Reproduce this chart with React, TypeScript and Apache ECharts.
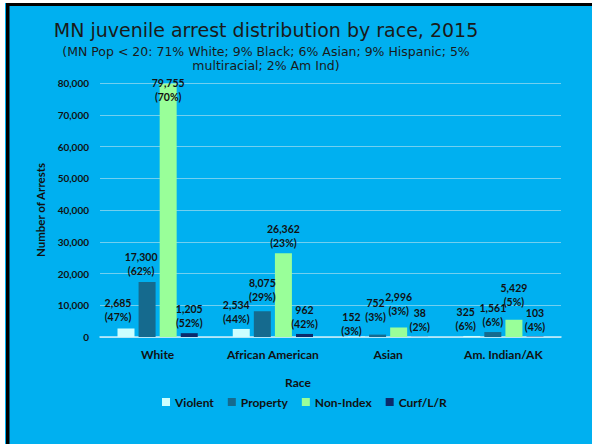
import React, { useEffect, useRef } from 'react';
import * as echarts from 'echarts';

const categories = ['White', 'African American', 'Asian', 'Am. Indian/AK'];
const seriesNames = ['Violent', 'Property', 'Non-Index', 'Curf/L/R'];
const violent = [2685, 2534, 152, 325];
const violentPct = [47, 44, 3, 6];
const property = [17300, 8075, 752, 1561];
const propertyPct = [62, 29, 3, 6];
const nonIndex = [79755, 26362, 2996, 5429];
const nonIndexPct = [70, 23, 3, 5];
const curfew = [1205, 962, 38, 103];
const curfewPct = [52, 42, 2, 4];
const yMax = 80000;
const yInterval = 10000;

const titleText = 'MN juvenile arrest distribution by race, 2015';
const subtitleLines = [
  '(MN Pop < 20: 71% White; 9% Black; 6% Asian; 9% Hispanic; 5%',
  'multiracial; 2% Am Ind)',
];

const colors = ['#CCFFFF', '#156A8E', '#99FF99', '#0B2A6B'];
// label nudges (style only)
const labelNudges = [
  [[-8, -1], [-5, 0], [-5, 4], [-6, 0]],
  [[-6, -1], [0, -4], [-2, -8], [0, 0]],
  [[0, 23], [0, 0], [0, -6], [0, -8]],
  [[0, 0], [0, 0], [0, 0], [0, 0]],
];

const FONT = 'Lato, "Open Sans", sans-serif';

export default function App() {
  const ref = useRef<HTMLDivElement>(null);
  useEffect(() => {
    if (!ref.current) return;
    const chart = echarts.init(ref.current, undefined, { renderer: 'svg' });
    const values = [violent, property, nonIndex, curfew];
    const pcts = [violentPct, propertyPct, nonIndexPct, curfewPct];
    const series = values.map((vals, si) => ({
      name: seriesNames[si],
      type: 'bar',
      barWidth: 17,
      barGap: '24%',
      itemStyle: { color: colors[si] },
      data: vals.map((v, i) => ({
        value: v,
        label: { offset: labelNudges[si][i] },
      })),
      label: {
        show: true,
        position: 'top',
        distance: 3,
        fontFamily: FONT,
        fontWeight: 'bold',
        fontSize: 10.5,
        lineHeight: 14,
        color: '#111',
        formatter: (p: any) =>
          `${Number(p.value).toLocaleString('en-US')}\n(${pcts[si][p.dataIndex]}%)`,
      },
    }));
    chart.setOption({
      animation: false,
      backgroundColor: '#00B0F0',
      textStyle: { fontFamily: FONT },
      grid: { left: 100, right: 31, top: 83, bottom: 107, containLabel: false },
      legend: {
        left: 157,
        top: 391,
        itemWidth: 8,
        itemHeight: 8,
        itemGap: 14,
        icon: 'rect',
        textStyle: { fontFamily: FONT, fontWeight: 'bold', fontSize: 12, color: '#111' },
        data: seriesNames,
      },
      xAxis: {
        type: 'category',
        data: categories,
        axisLine: { lineStyle: { color: '#CDEFFB', width: 1.5 } },
        axisTick: { show: false },
        axisLabel: { interval: 0, fontFamily: FONT, fontWeight: 'bold', fontSize: 12, color: '#111', margin: 11 },
      },
      yAxis: {
        type: 'value',
        min: 0,
        max: yMax,
        interval: yInterval,
        name: 'Number of Arrests',
        nameLocation: 'middle',
        nameGap: 42,
        nameTextStyle: { fontFamily: FONT, fontWeight: 'bold', fontSize: 11.5, color: '#111' },
        axisLine: { show: false },
        axisTick: { show: false },
        axisLabel: {
          fontFamily: FONT,
          fontWeight: 'bold',
          fontSize: 10,
          color: '#111',
          margin: 11,
          formatter: (v: number) => v.toLocaleString('en-US'),
        },
        splitLine: { lineStyle: { color: '#72CFEF', width: 1 } },
      },
      graphic: [
        { type: 'rect', shape: { x: 0, y: 0, width: 592, height: 3 }, style: { fill: '#ffffff' }, silent: true },
        { type: 'rect', shape: { x: 0, y: 0, width: 5, height: 444 }, style: { fill: '#ffffff' }, silent: true },
        { type: 'rect', shape: { x: 6, y: 3, width: 586, height: 3 }, style: { fill: '#000000' }, silent: true },
        { type: 'rect', shape: { x: 6, y: 3, width: 3.5, height: 441 }, style: { fill: '#000000' }, silent: true },
        {
          type: 'text',
          x: 266,
          y: 30,
          style: {
            text: titleText,
            fill: '#1a1a1a',
            font: '19px "DejaVu Sans", sans-serif',
            textAlign: 'center',
            textVerticalAlign: 'middle',
            align: 'center',
            verticalAlign: 'middle',
          },
        },
        ...subtitleLines.map((t, i) => ({
          type: 'text',
          x: 266,
          y: 51 + i * 14.5,
          style: {
            text: t,
            fill: '#1a1a1a',
            font: '12.5px "DejaVu Sans", sans-serif',
            textAlign: 'center',
            textVerticalAlign: 'middle',
            align: 'center',
            verticalAlign: 'middle',
          },
        })),
        {
          type: 'text',
          x: 298,
          y: 382,
          style: {
            text: 'Race',
            fill: '#111',
            font: `bold 12px ${FONT}`,
            textAlign: 'center',
            textVerticalAlign: 'middle',
            align: 'center',
            verticalAlign: 'middle',
          },
        },
      ],
      series,
    });
    return () => chart.dispose();
  }, []);
  return (
    <div
      ref={ref}
      style={{ position: 'fixed', left: 0, top: 0, width: 592, height: 444 }}
    />
  );
}
